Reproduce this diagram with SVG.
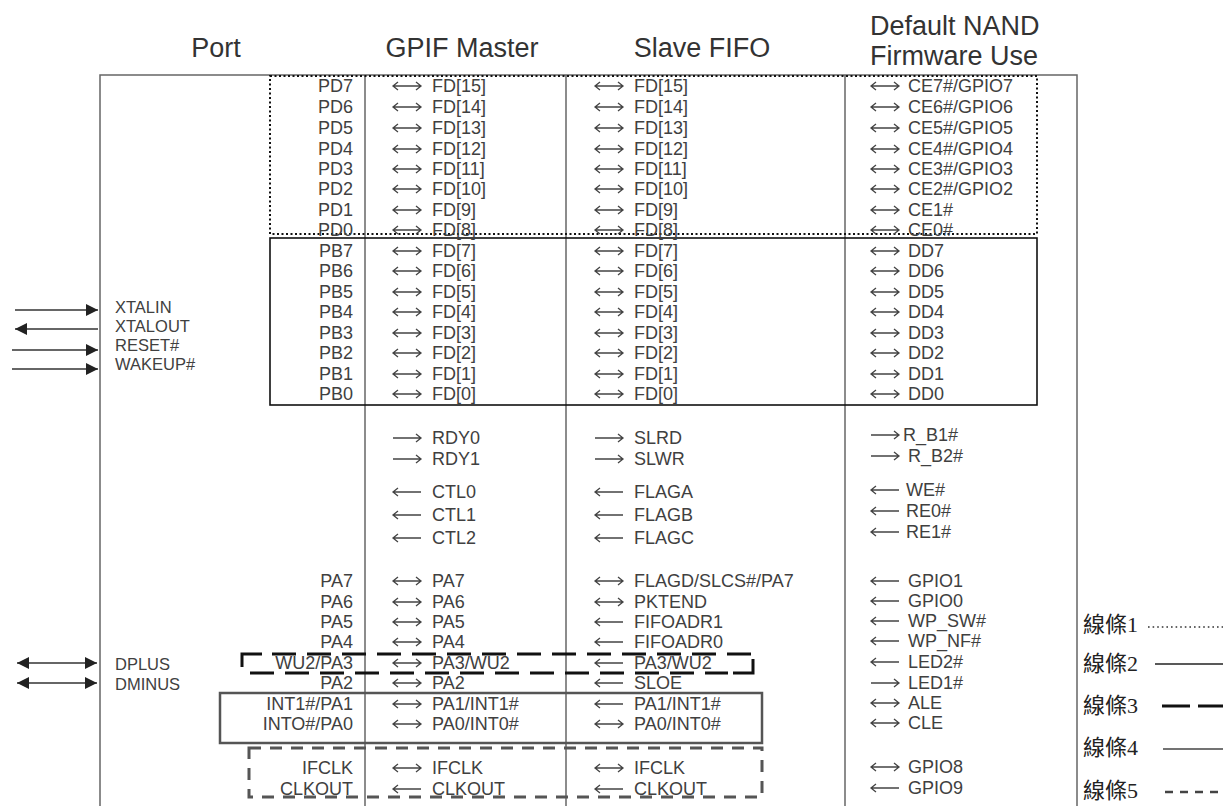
<svg xmlns="http://www.w3.org/2000/svg" width="1223" height="806" viewBox="0 0 1223 806">
<style>
.h{font-family:"Liberation Sans",Arial,sans-serif;font-size:27px;fill:#333}
.m{text-anchor:middle}
.t{font-family:"Liberation Sans",Arial,sans-serif;font-size:18px;fill:#404040}
.p{font-family:"Liberation Sans",Arial,sans-serif;font-size:18px;fill:#404040;text-anchor:end}
.s{font-family:"Liberation Sans",Arial,sans-serif;font-size:16.5px;fill:#404040}
.lg{font-family:"Liberation Serif","Noto Sans CJK TC",serif;font-size:22px;fill:#222}
.frame{fill:none;stroke:#666;stroke-width:1.5}
.ar{fill:none;stroke:#444;stroke-width:1.3}
.sig{stroke:#333;stroke-width:1.6;fill:none}
</style>
<defs>
<g id="bi" class="ar"><path d="M1,0 H29 M6,-4 L1,0 L6,4 M24,-4 L29,0 L24,4"/></g>
<g id="r" class="ar"><path d="M1,0 H29 M24,-4 L29,0 L24,4"/></g>
<g id="l" class="ar"><path d="M1,0 H29 M6,-4 L1,0 L6,4"/></g>
<marker id="ah" viewBox="0 0 10 10" refX="10" refY="5" markerWidth="16" markerHeight="12" orient="auto-start-reverse" markerUnits="userSpaceOnUse"><path d="M0,0 L10,5 L0,10 z" fill="#222"/></marker>
</defs>
<rect width="1223" height="806" fill="#fff"/>

<g id="headers">
<text class="h m" x="216" y="57">Port</text>
<text class="h m" x="462" y="57">GPIF Master</text>
<text class="h m" x="702" y="57">Slave FIFO</text>
<text class="h" x="870" y="35">Default NAND</text>
<text class="h" x="870" y="65">Firmware Use</text>
</g>

<g id="frame">
<path class="frame" d="M100,806 V75 H1077 V806"/>
<line class="frame" x1="365" y1="75" x2="365" y2="806"/>
<line class="frame" x1="566" y1="75" x2="566" y2="806"/>
<line class="frame" x1="845" y1="75" x2="845" y2="806"/>
</g>

<g id="line-boxes">
<rect id="box1-dotted" x="270" y="76" width="767" height="158" fill="none" stroke="#111" stroke-width="2" stroke-dasharray="2 2.5"/>
<rect id="box2-solid" x="270" y="238" width="767" height="167" fill="none" stroke="#111" stroke-width="1.6"/>
<g id="box3-dashed" fill="none" stroke="#111" stroke-width="3">
<path d="M242,667 V654 H262"/>
<path d="M272,654 H753" stroke-dasharray="24 11"/>
<path d="M250,673 H728" stroke-dasharray="24 11"/>
<path d="M733,673 H753 V659"/>
</g>
<rect id="box4-grey" x="220" y="693" width="542" height="50" fill="none" stroke="#555" stroke-width="2.5"/>
<rect id="box5-dashed" x="249" y="748" width="513" height="49" fill="none" stroke="#555" stroke-width="3" stroke-dasharray="12 9"/>
</g>

<g id="connectors">
<line class="sig" x1="15" y1="310" x2="98" y2="310" marker-end="url(#ah)"/>
<line class="sig" x1="98" y1="329" x2="15" y2="329" marker-end="url(#ah)"/>
<line class="sig" x1="12" y1="350" x2="98" y2="350" marker-end="url(#ah)"/>
<line class="sig" x1="12" y1="369" x2="98" y2="369" marker-end="url(#ah)"/>
<line class="sig" x1="17" y1="663" x2="97" y2="663" marker-start="url(#ah)" marker-end="url(#ah)"/>
<line class="sig" x1="17" y1="683" x2="97" y2="683" marker-start="url(#ah)" marker-end="url(#ah)"/>
</g>

<g id="left-signals">
<text class="s" x="115" y="313">XTALIN</text>
<text class="s" x="115" y="332">XTALOUT</text>
<text class="s" x="115" y="351">RESET#</text>
<text class="s" x="115" y="370">WAKEUP#</text>
<text class="s" x="115" y="670">DPLUS</text>
<text class="s" x="115" y="690">DMINUS</text>
</g>

<g id="col-port">
<text class="p" x="353" y="92">PD7</text>
<text class="p" x="353" y="113">PD6</text>
<text class="p" x="353" y="134">PD5</text>
<text class="p" x="353" y="155">PD4</text>
<text class="p" x="353" y="175">PD3</text>
<text class="p" x="353" y="195">PD2</text>
<text class="p" x="353" y="216">PD1</text>
<text class="p" x="353" y="236">PD0</text>
<text class="p" x="353" y="257">PB7</text>
<text class="p" x="353" y="277">PB6</text>
<text class="p" x="353" y="298">PB5</text>
<text class="p" x="353" y="318">PB4</text>
<text class="p" x="353" y="339">PB3</text>
<text class="p" x="353" y="359">PB2</text>
<text class="p" x="353" y="380">PB1</text>
<text class="p" x="353" y="400">PB0</text>
<text class="p" x="353" y="587">PA7</text>
<text class="p" x="353" y="608">PA6</text>
<text class="p" x="353" y="628">PA5</text>
<text class="p" x="353" y="648">PA4</text>
<text class="p" x="353" y="669">WU2/PA3</text>
<text class="p" x="353" y="689">PA2</text>
<text class="p" x="353" y="710">INT1#/PA1</text>
<text class="p" x="353" y="730">INTO#/PA0</text>
<text class="p" x="353" y="774">IFCLK</text>
<text class="p" x="353" y="795">CLKOUT</text>
</g>

<g id="col-gpif">
<use href="#bi" x="392" y="86"/><text class="t" x="432" y="92">FD[15]</text>
<use href="#bi" x="392" y="107"/><text class="t" x="432" y="113">FD[14]</text>
<use href="#bi" x="392" y="128"/><text class="t" x="432" y="134">FD[13]</text>
<use href="#bi" x="392" y="149"/><text class="t" x="432" y="155">FD[12]</text>
<use href="#bi" x="392" y="169"/><text class="t" x="432" y="175">FD[11]</text>
<use href="#bi" x="392" y="189"/><text class="t" x="432" y="195">FD[10]</text>
<use href="#bi" x="392" y="210"/><text class="t" x="432" y="216">FD[9]</text>
<use href="#bi" x="392" y="230"/><text class="t" x="432" y="236">FD[8]</text>
<use href="#bi" x="392" y="251"/><text class="t" x="432" y="257">FD[7]</text>
<use href="#bi" x="392" y="271"/><text class="t" x="432" y="277">FD[6]</text>
<use href="#bi" x="392" y="292"/><text class="t" x="432" y="298">FD[5]</text>
<use href="#bi" x="392" y="312"/><text class="t" x="432" y="318">FD[4]</text>
<use href="#bi" x="392" y="333"/><text class="t" x="432" y="339">FD[3]</text>
<use href="#bi" x="392" y="353"/><text class="t" x="432" y="359">FD[2]</text>
<use href="#bi" x="392" y="374"/><text class="t" x="432" y="380">FD[1]</text>
<use href="#bi" x="392" y="394"/><text class="t" x="432" y="400">FD[0]</text>
<use href="#r" x="392" y="438"/><text class="t" x="432" y="444">RDY0</text>
<use href="#r" x="392" y="459"/><text class="t" x="432" y="465">RDY1</text>
<use href="#l" x="392" y="492"/><text class="t" x="432" y="498">CTL0</text>
<use href="#l" x="392" y="515"/><text class="t" x="432" y="521">CTL1</text>
<use href="#l" x="392" y="538"/><text class="t" x="432" y="544">CTL2</text>
<use href="#bi" x="392" y="581"/><text class="t" x="432" y="587">PA7</text>
<use href="#bi" x="392" y="602"/><text class="t" x="432" y="608">PA6</text>
<use href="#bi" x="392" y="622"/><text class="t" x="432" y="628">PA5</text>
<use href="#bi" x="392" y="642"/><text class="t" x="432" y="648">PA4</text>
<use href="#bi" x="392" y="663"/><text class="t" x="432" y="669">PA3/WU2</text>
<use href="#bi" x="392" y="683"/><text class="t" x="432" y="689">PA2</text>
<use href="#bi" x="392" y="704"/><text class="t" x="432" y="710">PA1/INT1#</text>
<use href="#bi" x="392" y="724"/><text class="t" x="432" y="730">PA0/INT0#</text>
<use href="#bi" x="392" y="768"/><text class="t" x="432" y="774">IFCLK</text>
<use href="#l" x="392" y="789"/><text class="t" x="432" y="795">CLKOUT</text>
</g>

<g id="col-slave">
<use href="#bi" x="594" y="86"/><text class="t" x="634" y="92">FD[15]</text>
<use href="#bi" x="594" y="107"/><text class="t" x="634" y="113">FD[14]</text>
<use href="#bi" x="594" y="128"/><text class="t" x="634" y="134">FD[13]</text>
<use href="#bi" x="594" y="149"/><text class="t" x="634" y="155">FD[12]</text>
<use href="#bi" x="594" y="169"/><text class="t" x="634" y="175">FD[11]</text>
<use href="#bi" x="594" y="189"/><text class="t" x="634" y="195">FD[10]</text>
<use href="#bi" x="594" y="210"/><text class="t" x="634" y="216">FD[9]</text>
<use href="#bi" x="594" y="230"/><text class="t" x="634" y="236">FD[8]</text>
<use href="#bi" x="594" y="251"/><text class="t" x="634" y="257">FD[7]</text>
<use href="#bi" x="594" y="271"/><text class="t" x="634" y="277">FD[6]</text>
<use href="#bi" x="594" y="292"/><text class="t" x="634" y="298">FD[5]</text>
<use href="#bi" x="594" y="312"/><text class="t" x="634" y="318">FD[4]</text>
<use href="#bi" x="594" y="333"/><text class="t" x="634" y="339">FD[3]</text>
<use href="#bi" x="594" y="353"/><text class="t" x="634" y="359">FD[2]</text>
<use href="#bi" x="594" y="374"/><text class="t" x="634" y="380">FD[1]</text>
<use href="#bi" x="594" y="394"/><text class="t" x="634" y="400">FD[0]</text>
<use href="#r" x="594" y="438"/><text class="t" x="634" y="444">SLRD</text>
<use href="#r" x="594" y="459"/><text class="t" x="634" y="465">SLWR</text>
<use href="#l" x="594" y="492"/><text class="t" x="634" y="498">FLAGA</text>
<use href="#l" x="594" y="515"/><text class="t" x="634" y="521">FLAGB</text>
<use href="#l" x="594" y="538"/><text class="t" x="634" y="544">FLAGC</text>
<use href="#bi" x="594" y="581"/><text class="t" x="634" y="587">FLAGD/SLCS#/PA7</text>
<use href="#bi" x="594" y="602"/><text class="t" x="634" y="608">PKTEND</text>
<use href="#l" x="594" y="622"/><text class="t" x="634" y="628">FIFOADR1</text>
<use href="#l" x="594" y="642"/><text class="t" x="634" y="648">FIFOADR0</text>
<use href="#l" x="594" y="663"/><text class="t" x="634" y="669">PA3/WU2</text>
<use href="#l" x="594" y="683"/><text class="t" x="634" y="689">SLOE</text>
<use href="#l" x="594" y="704"/><text class="t" x="634" y="710">PA1/INT1#</text>
<use href="#bi" x="594" y="724"/><text class="t" x="634" y="730">PA0/INT0#</text>
<use href="#bi" x="594" y="768"/><text class="t" x="634" y="774">IFCLK</text>
<use href="#l" x="594" y="789"/><text class="t" x="634" y="795">CLKOUT</text>
</g>

<g id="col-nand">
<use href="#bi" x="870" y="86"/><text class="t" x="908" y="92">CE7#/GPIO7</text>
<use href="#bi" x="870" y="107"/><text class="t" x="908" y="113">CE6#/GPIO6</text>
<use href="#bi" x="870" y="128"/><text class="t" x="908" y="134">CE5#/GPIO5</text>
<use href="#bi" x="870" y="149"/><text class="t" x="908" y="155">CE4#/GPIO4</text>
<use href="#bi" x="870" y="169"/><text class="t" x="908" y="175">CE3#/GPIO3</text>
<use href="#bi" x="870" y="189"/><text class="t" x="908" y="195">CE2#/GPIO2</text>
<use href="#bi" x="870" y="210"/><text class="t" x="908" y="216">CE1#</text>
<use href="#bi" x="870" y="230"/><text class="t" x="908" y="236">CE0#</text>
<use href="#bi" x="870" y="251"/><text class="t" x="908" y="257">DD7</text>
<use href="#bi" x="870" y="271"/><text class="t" x="908" y="277">DD6</text>
<use href="#bi" x="870" y="292"/><text class="t" x="908" y="298">DD5</text>
<use href="#bi" x="870" y="312"/><text class="t" x="908" y="318">DD4</text>
<use href="#bi" x="870" y="333"/><text class="t" x="908" y="339">DD3</text>
<use href="#bi" x="870" y="353"/><text class="t" x="908" y="359">DD2</text>
<use href="#bi" x="870" y="374"/><text class="t" x="908" y="380">DD1</text>
<use href="#bi" x="870" y="394"/><text class="t" x="908" y="400">DD0</text>
<use href="#r" x="870" y="435"/><text class="t" x="903" y="441">R_B1#</text>
<use href="#r" x="870" y="456"/><text class="t" x="908" y="462">R_B2#</text>
<use href="#l" x="870" y="490"/><text class="t" x="906" y="496">WE#</text>
<use href="#l" x="870" y="511"/><text class="t" x="906" y="517">RE0#</text>
<use href="#l" x="870" y="532"/><text class="t" x="906" y="538">RE1#</text>
<use href="#l" x="870" y="581"/><text class="t" x="908" y="587">GPIO1</text>
<use href="#l" x="870" y="601"/><text class="t" x="908" y="607">GPIO0</text>
<use href="#l" x="870" y="621"/><text class="t" x="908" y="627">WP_SW#</text>
<use href="#l" x="870" y="641"/><text class="t" x="908" y="647">WP_NF#</text>
<use href="#l" x="870" y="662"/><text class="t" x="908" y="668">LED2#</text>
<use href="#r" x="870" y="683"/><text class="t" x="908" y="689">LED1#</text>
<use href="#bi" x="870" y="703"/><text class="t" x="908" y="709">ALE</text>
<use href="#bi" x="870" y="723"/><text class="t" x="908" y="729">CLE</text>
<use href="#bi" x="870" y="767"/><text class="t" x="908" y="773">GPIO8</text>
<use href="#l" x="870" y="788"/><text class="t" x="908" y="794">GPIO9</text>
</g>

<g id="legend">
<text class="lg" x="1083" y="632">線條1</text>
<line x1="1148" y1="627" x2="1223" y2="627" stroke="#333" stroke-width="1.6" stroke-dasharray="1.6 3"/>
<text class="lg" x="1083" y="671">線條2</text>
<line x1="1155" y1="664" x2="1223" y2="664" stroke="#222" stroke-width="1.5"/>
<text class="lg" x="1083" y="713">線條3</text>
<line x1="1162" y1="706" x2="1223" y2="706" stroke="#111" stroke-width="3" stroke-dasharray="28 8"/>
<text class="lg" x="1083" y="755">線條4</text>
<line x1="1163" y1="749" x2="1223" y2="749" stroke="#444" stroke-width="1.5"/>
<text class="lg" x="1083" y="798">線條5</text>
<line x1="1165" y1="792" x2="1223" y2="792" stroke="#444" stroke-width="2.5" stroke-dasharray="8 7"/>
</g>
</svg>
